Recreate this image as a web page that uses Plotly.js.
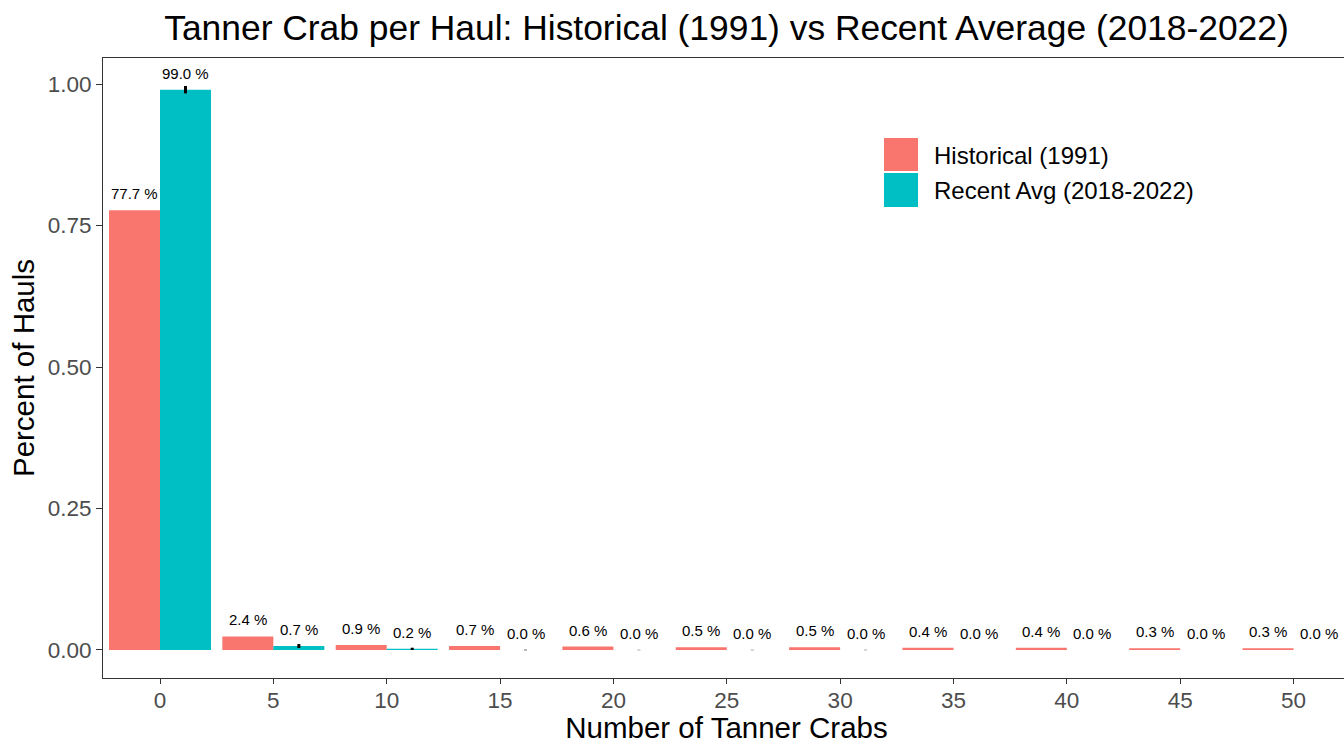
<!DOCTYPE html>
<html>
<head>
<meta charset="utf-8">
<script src="https://cdn.plot.ly/plotly-3.0.1.min.js"></script>
<style>
html,body{margin:0;padding:0;overflow:hidden;background:#fff;}
#chart{width:1350px;height:744px;}
</style>
</head>
<body>
<div id="chart"></div>
<script>
var crabCounts = [0, 5, 10, 15, 20, 25, 30, 35, 40, 45, 50];
var historical = [0.777, 0.024, 0.009, 0.007, 0.006, 0.005, 0.005, 0.004, 0.004, 0.003, 0.003];
var recent = [0.990, 0.007, 0.002, 0.0, 0.0, 0.0, 0.0, 0.0, 0.0, 0.0, 0.0];
var recentErr = [0.0065, 0.0035, 0.002, 0.0005, 0.0003, 0.0003, 0.0003, 0, 0, 0, 0];
var seriesNames = ["Historical (1991)", "Recent Avg (2018-2022)"];
var colors = ["#F8766D", "#00BFC4"];

var BW = 2.25;
function pct(v){ return (v*100).toFixed(1) + " %"; }

var traces = [
  {type:"bar", name:seriesNames[0], x:crabCounts, y:historical, offset:-BW, width:BW,
   marker:{color:colors[0]}, showlegend:false, hoverinfo:"x+y"},
  {type:"bar", name:seriesNames[1], x:crabCounts, y:recent, offset:0, width:BW,
   marker:{color:colors[1]}, showlegend:false, hoverinfo:"x+y"},
  {type:"scatter", mode:"markers", x:crabCounts.map(function(c){return c+BW/2;}), y:recent,
   marker:{size:1, color:"rgba(0,0,0,0)"}, showlegend:false, hoverinfo:"skip",
   error_y:{type:"data", array:recentErr, visible:true, color:"#000", thickness:3, width:0}}
];

var FONT = "Liberation Sans, Arial, sans-serif";
var annotations = [];
crabCounts.forEach(function(c,i){
  annotations.push({x:c-BW/2, y:historical[i], xref:"x", yref:"y", text:pct(historical[i]),
    showarrow:false, yanchor:"bottom", yshift:6, font:{family:FONT, size:15, color:"#000"}});
  annotations.push({x:c+BW/2, y:recent[i], xref:"x", yref:"y", text:pct(recent[i]),
    showarrow:false, yanchor:"bottom", yshift:6, font:{family:FONT, size:15, color:"#000"}});
});
// manual legend
annotations.push({xref:"paper", yref:"paper", x:(932-103)/1247, y:1-(155-58)/620, xanchor:"left", yanchor:"middle",
  text:seriesNames[0], showarrow:false, font:{family:FONT, size:24, color:"#000"}});
annotations.push({xref:"paper", yref:"paper", x:(932-103)/1247, y:1-(190-58)/620, xanchor:"left", yanchor:"middle",
  text:seriesNames[1], showarrow:false, font:{family:FONT, size:24, color:"#000"}});

var shapes = [
  {type:"rect", xref:"paper", yref:"paper", x0:(884-103)/1247, x1:(918-103)/1247, y0:1-(171-58)/620, y1:1-(138-58)/620,
   fillcolor:colors[0], line:{width:0}},
  {type:"rect", xref:"paper", yref:"paper", x0:(884-103)/1247, x1:(918-103)/1247, y0:1-(207-58)/620, y1:1-(173-58)/620,
   fillcolor:colors[1], line:{width:0}}
];

var layout = {
  width:1350, height:744,
  margin:{l:103, r:0, t:58, b:66},
  paper_bgcolor:"#fff", plot_bgcolor:"#fff",
  font:{family:FONT},
  title:{text:"Tanner Crab per Haul: Historical (1991) vs Recent Average (2018-2022)",
    x:0.5, xref:"paper", y:1-28/744, yref:"container", yanchor:"middle",
    font:{size:35.4, color:"#000"}},
  barmode:"overlay",
  xaxis:{range:[-2.514, 52.49], tickvals:crabCounts, ticktext:crabCounts.map(String),
    showgrid:false, zeroline:false, showline:true, mirror:true, linecolor:"#333", linewidth:1,
    ticks:"outside", ticklen:5, tickcolor:"#333", tickfont:{size:22.5, color:"#4D4D4D"},
    ticklabelstandoff:-3,
    title:{text:"Number of Tanner Crabs", font:{size:29.5, color:"#000"}, standoff:10}},
  yaxis:{range:[-0.0495, 1.046], tickvals:[0,0.25,0.5,0.75,1], ticktext:["0.00","0.25","0.50","0.75","1.00"],
    showgrid:false, zeroline:false, showline:true, mirror:true, linecolor:"#333", linewidth:1,
    ticks:"outside", ticklen:6, tickcolor:"#333", tickfont:{size:22.5, color:"#4D4D4D"},
    title:{text:"Percent of Hauls", font:{size:29.5, color:"#000"}, standoff:4}},
  annotations:annotations,
  shapes:shapes
};

Plotly.newPlot("chart", traces, layout, {displayModeBar:false, staticPlot:true});
</script>
</body>
</html>
